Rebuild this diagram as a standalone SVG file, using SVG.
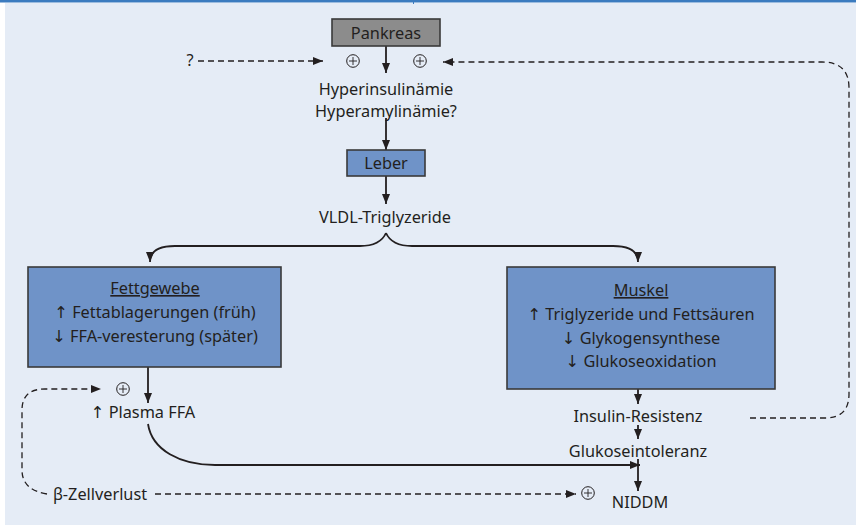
<svg xmlns="http://www.w3.org/2000/svg" width="856" height="525" viewBox="0 0 856 525">
<defs>
<marker id="ah" viewBox="0 0 10 10" refX="10" refY="5" markerWidth="10" markerHeight="10" markerUnits="userSpaceOnUse" orient="auto">
<path d="M0,1 L10,5 L0,9 Z" fill="#231f20"/>
</marker>
<style>
text{font-family:"Noto Sans","Open Sans","DejaVu Sans",sans-serif;font-size:16.3px;fill:#231f20;text-anchor:middle}
.box{stroke:#3a3a3a;stroke-width:1.6}
.blue{fill:#6f93c8}
.solid{fill:none;stroke:#231f20;stroke-width:1.8}
.dash{fill:none;stroke:#231f20;stroke-width:1.3;stroke-dasharray:6,4}
.plus circle{fill:none;stroke:#231f20;stroke-width:1}
.plus path{stroke:#231f20;stroke-width:0.9}
</style>
</defs>
<rect x="0" y="0" width="856" height="525" fill="#ffffff"/>
<rect x="5" y="3" width="851" height="522" fill="#e5ecf6"/>
<rect x="0" y="0" width="856" height="2.5" fill="#3b7bbf"/>
<rect x="413" y="0" width="1" height="4" fill="#3b7bbf"/>

<g id="connectors">
<path class="solid" d="M386,46 V73" marker-end="url(#ah)"/>
<path class="solid" d="M386,118 V150" marker-end="url(#ah)"/>
<path class="solid" d="M386,176 V204" marker-end="url(#ah)"/>
<path class="solid" d="M386,233 C382,242 372,246 360,246 H175 Q150,246 150,262" marker-end="url(#ah)"/>
<path class="solid" d="M386,233 C390,242 400,246 412,246 H613 Q638,246 638,262" marker-end="url(#ah)"/>
<path class="solid" d="M148,367 V403" marker-end="url(#ah)"/>
<path class="solid" d="M148,424 C152,450 180,465 215,465 H640" marker-end="url(#ah)"/>
<path class="solid" d="M638,389 V404" marker-end="url(#ah)"/>
<path class="solid" d="M638,425 V439" marker-end="url(#ah)"/>
<path class="solid" d="M638,459 V491" marker-end="url(#ah)"/>
<path class="dash" d="M198,61 H323" marker-end="url(#ah)"/>
<path class="dash" d="M750,418 H825 Q849,418 849,394 V88 Q849,62 822,62 H443" marker-end="url(#ah)"/>
<path class="dash" d="M47,494 Q22,490 22,470 V410 Q22,389 45,389 H101" marker-end="url(#ah)"/>
<path class="dash" d="M155,494 H576" marker-end="url(#ah)"/>
</g>

<g id="pankreas">
<rect class="box" x="332" y="19" width="108" height="27" fill="#8c8c8c"/>
<text x="386" y="38.5">Pankreas</text>
</g>
<g id="plus-left" class="plus"><circle cx="353" cy="61" r="6.3"/><path d="M349,61 H357 M353,57 V65"/></g>
<g id="plus-right" class="plus"><circle cx="420" cy="61" r="6.3"/><path d="M416,61 H424 M420,57 V65"/></g>
<g id="question"><text x="190" y="66">?</text></g>
<g id="hyper">
<text x="386" y="95">Hyperinsulinämie</text>
<text x="386" y="117">Hyperamylinämie?</text>
</g>
<g id="leber">
<rect class="box blue" x="347" y="150" width="78" height="26"/>
<text x="386" y="169">Leber</text>
</g>
<g id="vldl"><text x="385" y="223">VLDL-Triglyzeride</text></g>
<g id="fettgewebe">
<rect class="box blue" x="28" y="267" width="253" height="100"/>
<text x="155" y="294" text-decoration="underline">Fettgewebe</text>
<text x="155" y="318">↑ Fettablagerungen (früh)</text>
<text x="155" y="342">↓ FFA-veresterung (später)</text>
</g>
<g id="muskel">
<rect class="box blue" x="507" y="267" width="268" height="122"/>
<text x="641" y="296" text-decoration="underline">Muskel</text>
<text x="641" y="320">↑ Triglyzeride und Fettsäuren</text>
<text x="641" y="344">↓ Glykogensynthese</text>
<text x="641" y="367">↓ Glukoseoxidation</text>
</g>
<g id="plus-ffa" class="plus"><circle cx="123" cy="389" r="6.3"/><path d="M119,389 H127 M123,385 V393"/></g>
<g id="plasma-ffa"><text x="143" y="418">↑ Plasma FFA</text></g>
<g id="insulin-resistenz"><text x="638" y="422">Insulin-Resistenz</text></g>
<g id="glukoseintoleranz"><text x="638" y="457">Glukoseintoleranz</text></g>
<g id="plus-niddm" class="plus"><circle cx="588" cy="493" r="6.3"/><path d="M584,493 H592 M588,489 V497"/></g>
<g id="niddm"><text x="640" y="508">NIDDM</text></g>
<g id="beta"><text x="100" y="500">β-Zellverlust</text></g>
</svg>
